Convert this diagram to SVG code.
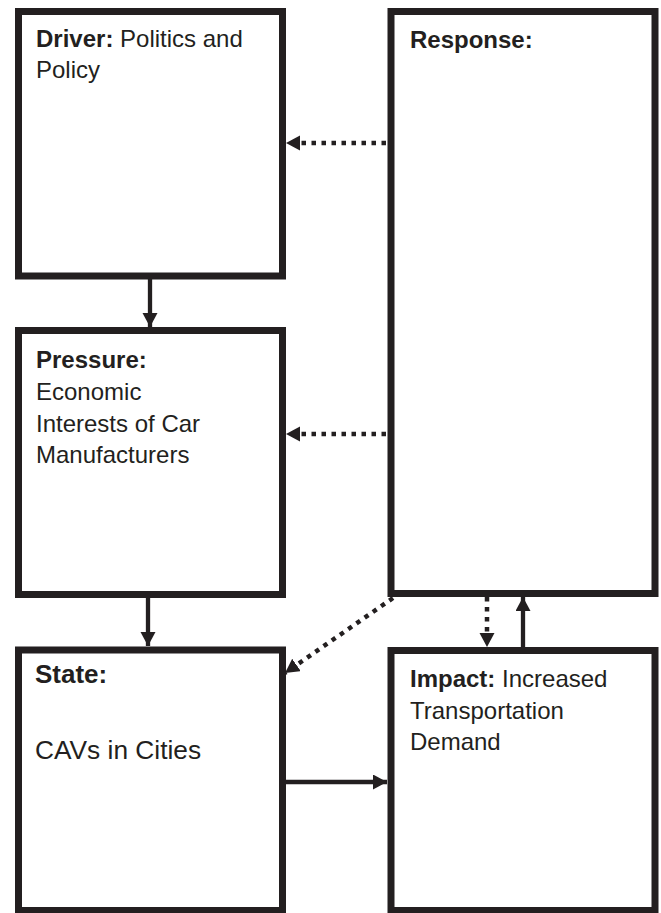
<svg xmlns="http://www.w3.org/2000/svg" width="661" height="913" viewBox="0 0 661 913">
<style>
.box{fill:#ffffff;stroke:#231f20;stroke-width:7}
.t{font-family:"Liberation Sans",Arial,sans-serif;font-size:24px;fill:#231f20}
.b{font-weight:bold}
.solid{stroke:#231f20;stroke-width:4.3;fill:none}
.dot{stroke:#231f20;stroke-width:4.5;fill:none;stroke-dasharray:4.5 5.5}
</style>
<defs>
<marker id="ah" markerUnits="userSpaceOnUse" markerWidth="16" markerHeight="16" refX="14" refY="7.5" orient="auto" viewBox="0 0 16 16">
<path d="M0,0 L14,7.5 L0,15 z" fill="#231f20"/>
</marker>
</defs>
<rect width="661" height="913" fill="#ffffff"/>
<g id="driver">
<rect class="box" x="18.5" y="11.5" width="264" height="264.5"/>
<text class="t" x="36" y="47"><tspan class="b">Driver:</tspan> Politics and</text>
<text class="t" x="36" y="78">Policy</text>
</g>
<g id="pressure">
<rect class="box" x="18.5" y="330.5" width="264" height="264"/>
<text class="t b" x="36" y="368">Pressure:</text>
<text class="t" x="36" y="400">Economic</text>
<text class="t" x="36" y="432">Interests of Car</text>
<text class="t" x="36" y="463">Manufacturers</text>
</g>
<g id="state">
<rect class="box" x="18.5" y="650" width="264" height="260.5"/>
<text class="t b" x="35" y="683" style="font-size:26px">State:</text>
<text class="t" x="35" y="759" style="font-size:26.3px">CAVs in Cities</text>
</g>
<g id="response">
<rect class="box" x="391" y="11.5" width="264" height="582"/>
<text class="t b" x="410" y="48">Response:</text>
</g>
<g id="impact">
<rect class="box" x="391" y="650.5" width="264" height="260"/>
<text class="t" x="410" y="687"><tspan class="b">Impact:</tspan> Increased</text>
<text class="t" x="410" y="719">Transportation</text>
<text class="t" x="410" y="750">Demand</text>
</g>
<g id="connectors">
<line class="solid" x1="150" y1="279" x2="150" y2="327" marker-end="url(#ah)"/>
<line class="solid" x1="148" y1="597" x2="148" y2="646" marker-end="url(#ah)"/>
<line class="solid" x1="286" y1="782" x2="387" y2="782" marker-end="url(#ah)"/>
<line class="solid" x1="523" y1="647" x2="523" y2="597" marker-end="url(#ah)"/>
<line class="dot" x1="487" y1="597" x2="487" y2="647" marker-end="url(#ah)"/>
<line class="dot" x1="386" y1="143" x2="286" y2="143" marker-end="url(#ah)"/>
<line class="dot" x1="386" y1="434" x2="286" y2="434" marker-end="url(#ah)"/>
<line class="dot" x1="393" y1="598" x2="285" y2="673" marker-end="url(#ah)"/>
</g>
</svg>
